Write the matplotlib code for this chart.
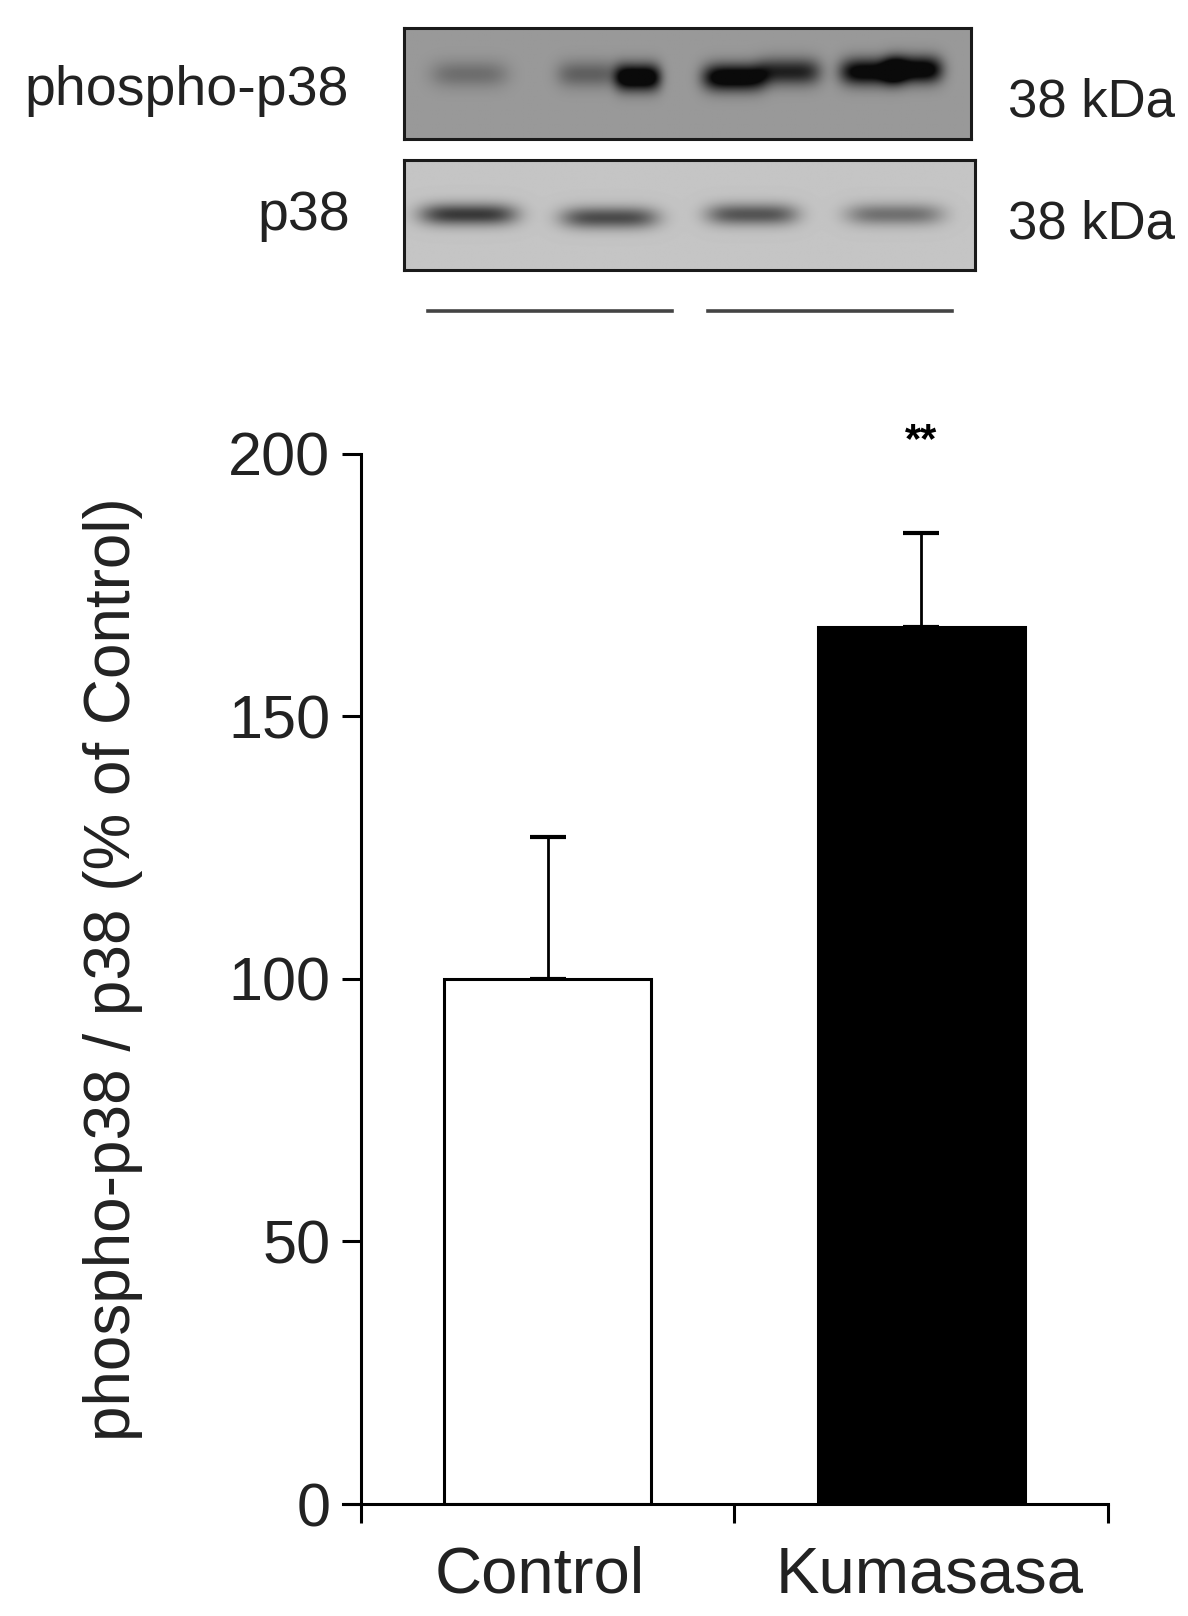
import matplotlib
matplotlib.use("Agg")
import matplotlib.pyplot as plt
import numpy as np

plt.rcParams['font.family'] = ['Liberation Sans', 'DejaVu Sans']

# bar chart data
groups = ["Control", "Kumasasa"]
means = [100, 167]
sems = [27, 18]
bar_colors = ["white", "black"]
y_ticks = [0, 50, 100, 150, 200]

# western blot band data (lane units, 4 lanes), darkness 0..1
phospho_x = [0.46, 1.3, 1.65, 2.33, 2.72, 3.3, 3.6]
phospho_w = [0.27, 0.22, 0.16, 0.22, 0.22, 0.22, 0.2]
phospho_d = [0.3, 0.4, 1.4, 1.3, 0.85, 1.2, 1.3]
phospho_y = [0.58, 0.58, 0.55, 0.55, 0.6, 0.6, 0.62]

p38_x = [0.45, 1.44, 2.44, 3.44]
p38_w = [0.34, 0.34, 0.32, 0.34]
p38_d = [0.75, 0.65, 0.6, 0.45]
p38_y = [0.5, 0.47, 0.5, 0.5]


def blot_image(xs, ws, ds, ys, bg, sy, nx=600, ny=120):
    gx = np.linspace(0, 4, nx)
    gy = np.linspace(1, 0, ny)
    X, Y = np.meshgrid(gx, gy)
    dark = np.zeros_like(X)
    for xc, w, d, yc in zip(xs, ws, ds, ys):
        dark += d * np.exp(-((X - xc) / w) ** 4) * np.exp(-((Y - yc) / sy) ** 2)
    dark = np.clip(dark, 0, 1)
    return bg - (bg - 0.04) * dark


fig = plt.figure(figsize=(11.88, 16.16), dpi=100)

# blots
ax_up = fig.add_axes([0.340, 0.914, 0.477, 0.0687])
ax_lo = fig.add_axes([0.340, 0.8329, 0.4806, 0.0681])
img_up = blot_image(phospho_x, phospho_w, phospho_d, phospho_y, 0.60, 0.12)
img_lo = blot_image(p38_x, p38_w, p38_d, p38_y, 0.77, 0.1)
for ax, img in [(ax_up, img_up), (ax_lo, img_lo)]:
    ax.imshow(img, cmap="gray", vmin=0, vmax=1, extent=[0, 4, 0, 1], aspect="auto",
              interpolation="bilinear")
    ax.set_xlim(0, 4)
    ax.set_ylim(0, 1)
    ax.set_xticks([])
    ax.set_yticks([])
    for s in ax.spines.values():
        s.set_linewidth(2.2)
        s.set_color("#1a1a1a")

# group lines under the blot
ax_lo.plot([0.17, 1.88], [-0.37, -0.37], color="#444444", lw=2.6, clip_on=False)
ax_lo.plot([2.13, 3.84], [-0.37, -0.37], color="#444444", lw=2.6, clip_on=False)

fig.text(0.2935, 0.9437, "phospho-p38", ha="right", va="center", fontsize=40, color="#222222")
fig.text(0.2946, 0.8663, "p38", ha="right", va="center", fontsize=40, color="#222222")
fig.text(0.8485, 0.9363, "38 kDa", ha="left", va="center", fontsize=38, color="#222222")
fig.text(0.8485, 0.8608, "38 kDa", ha="left", va="center", fontsize=38, color="#222222")

# bar chart
ax = fig.add_axes([0.2887, 0.0693, 0.644, 0.6498])
x = np.arange(len(groups))
ax.bar(x, means, width=0.555, color=bar_colors, edgecolor="black", linewidth=2.2, zorder=2)
ax.errorbar(x, means, yerr=[[0, 0], sems], fmt="none", ecolor="black",
            elinewidth=2, capsize=13, capthick=3, zorder=1)
ax.text(1, 202.5, "**", ha="center", va="center", fontsize=30, fontweight="bold")

ax.set_xlim(-0.548, 1.5)
ax.set_ylim(0, 200)
ax.spines["left"].set_position(("data", -0.5))
ax.spines["top"].set_visible(False)
ax.spines["right"].set_visible(False)
for s in ["left", "bottom"]:
    ax.spines[s].set_linewidth(2.2)

ax.set_yticks(y_ticks)
ax.set_yticklabels([str(t) for t in y_ticks])
ax.tick_params(axis="y", direction="out", length=14, width=2.2, pad=8, labelsize=44,
               labelcolor="#222222")
ax.set_xticks([-0.5, 0.5, 1.5])
ax.set_xticklabels([])
ax.tick_params(axis="x", which="major", direction="out", length=14, width=2.2)
# labels sit slightly off the bar centres in the original
ax.set_xticks([-0.022, 1.022], minor=True)
ax.set_xticklabels(groups, minor=True)
ax.tick_params(axis="x", which="minor", length=0, pad=30, labelsize=47, labelcolor="#222222")

fig.text(0.095, 0.4006, "phospho-p38 / p38 (% of Control)", rotation=90, ha="center",
         va="center", fontsize=46, color="#222222")

fig.savefig("out.png", dpi=100)
